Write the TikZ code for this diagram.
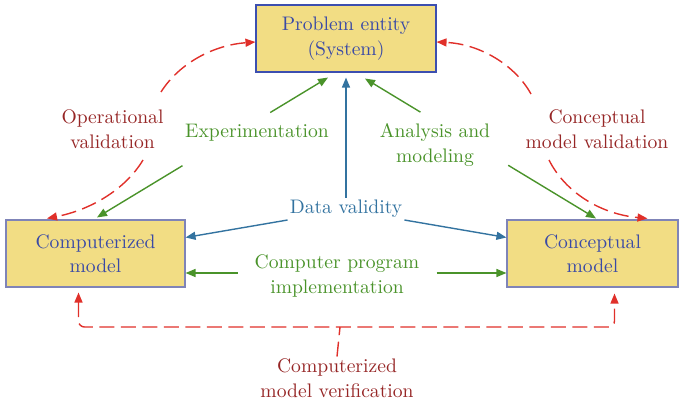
\documentclass[tikz,border=0pt]{standalone}
\usepackage{fontspec}
\setmainfont{lmroman10-regular.otf}
\usetikzlibrary{arrows.meta, calc}
\definecolor{boxfill}{HTML}{F2DD84}
\definecolor{boxtext}{HTML}{3A4AA6}
\definecolor{boxline}{HTML}{3C4FB0}
\definecolor{boxlinelight}{HTML}{7F84B8}
\definecolor{valred}{HTML}{E0302A}
\definecolor{valtext}{HTML}{962626}
\definecolor{flowgreen}{HTML}{4A932A}
\definecolor{flowblue}{HTML}{3373A0}

\begin{document}
\begin{tikzpicture}[
		x=1pt, y=-1pt,
		>={Triangle[length=10pt, width=8pt]},
		every node/.style={font=\rmfamily\fontsize{19.6}{24.5}\selectfont},
		box/.style={rectangle, draw=boxlinelight, line width=1.1pt, fill=boxfill,
			text=boxtext, align=center, minimum height=67pt, inner sep=0pt},
		garrow/.style={->, flowgreen, line width=1.4pt},
		barrow/.style={->, flowblue, line width=1.4pt},
		vdash/.style={valred, line width=1.4pt, dash pattern=on 15pt off 6.5pt},
		glabel/.style={text=flowgreen, align=center, inner sep=2pt},
		blabel/.style={text=flowblue, align=center, inner sep=2pt},
		rlabel/.style={text=valtext, align=center, inner sep=2pt},
		]
		\useasboundingbox (0,0) rectangle (680,403);
		
		% Boxes
		\node[box, draw=boxline, minimum width=180pt] (problem) at (346,38.5) {Problem entity\\(System)};
		\node[box, minimum width=179pt] (comp) at (95.5,253.5) {Computerized\\model};
		\node[box, minimum width=171pt] (concept) at (592.5,253.5) {Conceptual\\model};
		
		% Labels
		\node[blabel] (dv) at (346,209) {Data validity};
		\node[glabel] (expt) at (257,133) {Experimentation};
		\node[glabel] (anlys) at (435,145) {Analysis and\\modeling};
		\node[glabel] (cpi) at (337,276) {Computer program\\implementation};
		\node[rlabel] (opval) at (112.5,129) {Operational\\validation};
		\node[rlabel] (cmval) at (597,129) {Conceptual\\model validation};
		\node[rlabel] (cmver) at (337,378) {Computerized\\model verification};
		
		% Data validity
		\draw[barrow] (dv.north) -- ([yshift=-5pt]problem.south);
		\draw[barrow] (dv.south west) -- ([yshift=16pt]comp.east);
		\draw[barrow] (dv.south east) -- ([yshift=16pt]concept.west);
		
		% Experimentation
		\coordinate (ea) at ([xshift=1.5pt, yshift=2pt]comp.north);
		\coordinate (eb) at ([xshift=-18pt, yshift=-5pt]problem.south);
		\draw[garrow] ($(ea)!0.37!(eb)$) -- (ea);
		\draw[garrow] ($(ea)!0.75!(eb)$) -- (eb);
		
		% Analysis and modeling
		\coordinate (aa) at ([xshift=3.5pt, yshift=1pt]concept.north);
		\coordinate (ab) at ([xshift=19pt, yshift=-6pt]problem.south);
		\draw[garrow] ($(aa)!0.38!(ab)$) -- (aa);
		\draw[garrow] ($(aa)!0.76!(ab)$) -- (ab);
		
		% Computer program implementation
		\draw[garrow] ([xshift=-15pt, yshift=3pt]cpi.west) -- ([yshift=-19.5pt]comp.east);
		\draw[garrow] ([xshift=15pt, yshift=3pt]cpi.east) -- ([yshift=-19.5pt]concept.west);
		
		% Operational validation
		\coordinate (ov1) at (143,160);
		\coordinate (ov2) at (161,92);
		\draw[vdash, ->] (ov1) .. controls (125,190) and (90,210) .. ([xshift=-48.5pt, yshift=1pt]comp.north);
		\draw[vdash, ->] (ov2) .. controls (180,62) and (215,45) .. ([yshift=-3.5pt]problem.west);
		
		% Conceptual model validation
		\coordinate (cv1) at (531,94);
		\coordinate (cv2) at (549,160);
		\draw[vdash, ->] (cv1) .. controls (515,65) and (480,44) .. ([yshift=-3.5pt]problem.east);
		\draw[vdash, ->] (cv2) .. controls (565,192) and (600,214) .. ([xshift=55pt, yshift=1pt]concept.north);
		
		% Computerized model verification
		\coordinate (vbar) at (340,327);
		\draw[vdash, <->, rounded corners=6pt] ([xshift=-17pt, yshift=-5pt]comp.south) |- (vbar)
		-| ([xshift=22pt, yshift=-6pt]concept.south);
		\draw[vdash] (cmver.north) -- (vbar);
	\end{tikzpicture}
\end{document}
